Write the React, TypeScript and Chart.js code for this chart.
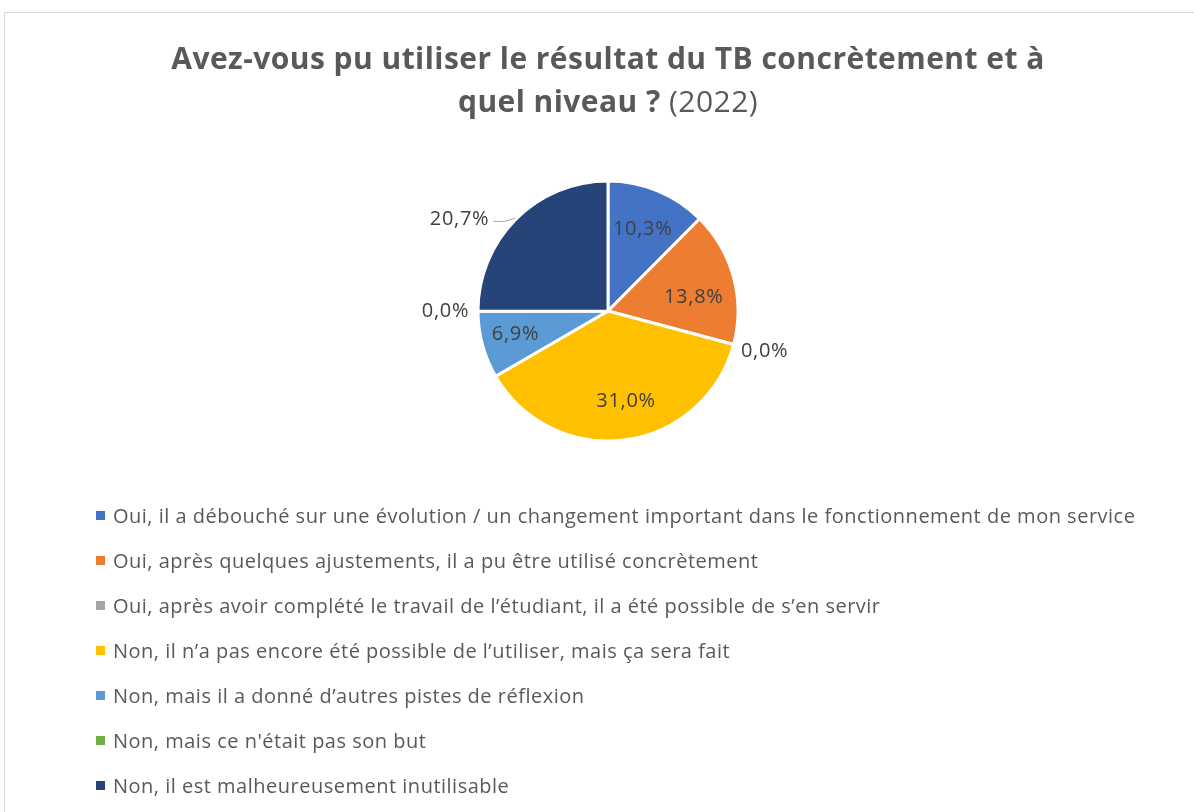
import React, { useEffect, useRef } from "react";
import { Chart, registerables } from "chart.js";

Chart.register(...registerables);

const categories = [
  "Oui, il a débouché sur une évolution / un changement important dans le fonctionnement de mon service",
  "Oui, après quelques ajustements, il a pu être utilisé concrètement",
  "Oui, après avoir complété le travail de l’étudiant, il a été possible de s’en servir",
  "Non, il n’a pas encore été possible de l’utiliser, mais ça sera fait",
  "Non, mais il a donné d’autres pistes de réflexion",
  "Non, mais ce n'était pas son but",
  "Non, il est malheureusement inutilisable",
];
const values = [10.3, 13.8, 0.0, 31.0, 6.9, 0.0, 20.7];
const valueLabels = ["10,3%", "13,8%", "0,0%", "31,0%", "6,9%", "0,0%", "20,7%"];
const colors = ["#4472C4", "#ED7D31", "#A5A5A5", "#FFC000", "#5B9BD5", "#70AD47", "#264478"];
const titleBoldLines = ["Avez-vous pu utiliser le résultat du TB concrètement et à", "quel niveau ?"];
const titleSuffix = " (2022)";

// label placement (style): distance as fraction of radius, angular shift in degrees
const labelPlacement = [
  { dist: 0.7, shift: 0, leader: false },
  { dist: 0.67, shift: 5, leader: false },
  { dist: 1.24, shift: -1.2, leader: false },
  { dist: 0.69, shift: -4, leader: false },
  { dist: 0.73, shift: 2.3, leader: false },
  { dist: 1.25, shift: 0.7, leader: false },
  { dist: 1.35, shift: -12.7, leader: true },
];

const FONT = "'Open Sans', Lato, sans-serif";

const labelPlugin = {
  id: "pieLabels",
  afterDatasetsDraw(chart: any) {
    const ctx = chart.ctx;
    const meta = chart.getDatasetMeta(0);
    ctx.save();
    ctx.font = `20px ${FONT}`;
    (ctx as any).letterSpacing = "0.7px";
    ctx.fillStyle = "#404040";
    ctx.textAlign = "center";
    ctx.textBaseline = "middle";
    meta.data.forEach((arc: any, i: number) => {
      const p = arc.getProps(["x", "y", "startAngle", "endAngle", "outerRadius"], true);
      const place = labelPlacement[i];
      const mid = (p.startAngle + p.endAngle) / 2;
      const a = mid + (place.shift * Math.PI) / 180;
      const lx = p.x + Math.cos(a) * p.outerRadius * place.dist;
      const ly = p.y + Math.sin(a) * p.outerRadius * place.dist;
      ctx.fillText(valueLabels[i], lx, ly + 2);
      if (place.leader) {
        const w = ctx.measureText(valueLabels[i]).width;
        const ex = p.x + Math.cos(mid) * p.outerRadius * 1.01;
        const ey = p.y + Math.sin(mid) * p.outerRadius * 1.01;
        const sx = lx + w / 2 + 4;
        const sy = ly + 4;
        ctx.strokeStyle = "#A6A6A6";
        ctx.lineWidth = 1;
        ctx.beginPath();
        ctx.moveTo(sx, sy);
        ctx.lineTo(sx + 11, sy);
        ctx.lineTo(ex, ey);
        ctx.stroke();
      }
    });
    ctx.restore();
  },
};

export default function App() {
  const canvasRef = useRef<HTMLCanvasElement | null>(null);

  useEffect(() => {
    if (!canvasRef.current) return;
    const chart = new Chart(canvasRef.current, {
      type: "pie",
      data: {
        labels: categories,
        datasets: [
          {
            data: values,
            backgroundColor: colors,
            borderColor: "#ffffff",
            borderWidth: 3,
          },
        ],
      },
      options: {
        responsive: false,
        animation: false,
        radius: 130,
        layout: { padding: { left: 468, right: 446, top: 171, bottom: 361 } },
        plugins: {
          legend: { display: false },
          title: { display: false },
          tooltip: { enabled: false },
        },
      } as any,
      plugins: [labelPlugin],
    });
    return () => chart.destroy();
  }, []);

  return (
    <div
      style={{
        position: "absolute",
        left: 0,
        top: 0,
        width: 1194,
        height: 812,
        background: "#ffffff",
        overflow: "hidden",
        fontFamily: FONT,
      }}
    >
      <div
        style={{
          position: "absolute",
          left: 4,
          top: 12,
          width: 1300,
          height: 900,
          border: "1px solid #D9D9D9",
          boxSizing: "border-box",
        }}
      />
      <canvas
        ref={canvasRef}
        width={1194}
        height={812}
        style={{ position: "absolute", left: 0, top: 0, width: 1194, height: 812 }}
      />
      <div
        style={{
          position: "absolute",
          left: 108,
          top: 36,
          width: 1000,
          textAlign: "center",
          color: "#595959",
          fontSize: 30,
          letterSpacing: "0.45px",
          lineHeight: "43px",
          whiteSpace: "nowrap",
        }}
      >
        <div style={{ fontWeight: 700 }}>{titleBoldLines[0]}</div>
        <div>
          <span style={{ fontWeight: 700 }}>{titleBoldLines[1]}</span>
          <span style={{ fontWeight: 400 }}>{titleSuffix}</span>
        </div>
      </div>
      <div
        style={{
          position: "absolute",
          left: 96,
          top: 493,
          color: "#595959",
          fontSize: 20,
          letterSpacing: "0.5px",
          lineHeight: "45px",
          whiteSpace: "nowrap",
        }}
      >
        {categories.map((c, i) => (
          <div key={i} style={{ display: "flex", alignItems: "center", height: 45 }}>
            <span
              style={{
                display: "inline-block",
                width: 9,
                height: 9,
                background: colors[i],
                marginRight: 8,
                flex: "none",
              }}
            />
            <span>{c}</span>
          </div>
        ))}
      </div>
    </div>
  );
}
